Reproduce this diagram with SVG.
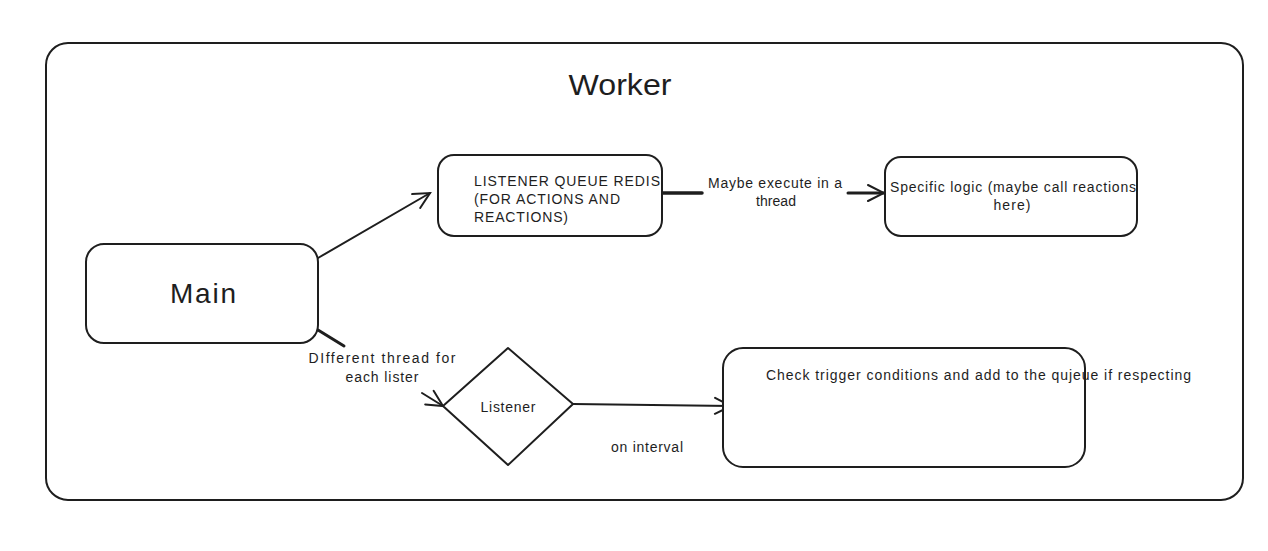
<svg xmlns="http://www.w3.org/2000/svg" width="1268" height="551" viewBox="0 0 1268 551">
<style>
.box{fill:#fff;stroke:#1e1e1e;stroke-width:2}
.t{font-family:"Liberation Sans",Arial,sans-serif;fill:#1e1e1e;font-size:14px}
.c{text-anchor:middle}
.ln{stroke:#1e1e1e;stroke-width:2;fill:none;stroke-linecap:round}
</style>
<defs>
<marker id="ah" markerWidth="20" markerHeight="20" refX="18" refY="10" orient="auto" markerUnits="userSpaceOnUse">
<path d="M2,2 L18,10 L2,18" fill="none" stroke="#1e1e1e" stroke-width="2" stroke-linecap="round"/>
</marker>
</defs>
<rect width="1268" height="551" fill="#fff"/>
<g id="worker">
<rect class="box" x="46" y="43" width="1197" height="457" rx="22"/>
<text class="t c" x="620" y="95" style="font-size:30px" textLength="103" lengthAdjust="spacingAndGlyphs">Worker</text>
</g>
<g id="connectors">
<path class="ln" d="M318,258 L430,193" marker-end="url(#ah)"/>
<path class="ln" d="M662,193 L702,193" style="stroke-width:3.5"/>
<path class="ln" d="M848,193 L884,193" style="stroke-width:3" marker-end="url(#ah)"/>
<text class="t c" x="775" y="188" textLength="134">Maybe execute in a</text>
<text class="t c" x="776" y="206" textLength="40">thread</text>
<path class="ln" d="M318,330 L344,346" style="stroke-width:3"/>
<path class="ln" d="M422,393 L443,406" marker-end="url(#ah)"/>
<text class="t c" x="382" y="363" textLength="147">DIfferent thread for</text>
<text class="t c" x="382" y="382" textLength="73">each lister</text>
<path class="ln" d="M573,404 L731,406" marker-end="url(#ah)"/>
<text class="t c" x="647" y="452" textLength="72">on interval</text>
</g>
<g id="main">
<rect class="box" x="86" y="244" width="232" height="99" rx="18"/>
<text class="t c" x="203" y="303" style="font-size:28px" textLength="66">Main</text>
</g>
<g id="queue">
<rect class="box" x="438" y="155" width="224" height="81" rx="16"/>
<text class="t" x="474" y="186" textLength="186">LISTENER QUEUE REDIS</text>
<text class="t" x="474" y="204" textLength="146">(FOR ACTIONS AND</text>
<text class="t" x="474" y="222" textLength="94">REACTIONS)</text>
</g>
<g id="specific">
<rect class="box" x="885" y="157" width="252" height="79" rx="16"/>
<text class="t c" x="1013" y="192" textLength="246">Specific logic (maybe call reactions</text>
<text class="t c" x="1012" y="210" textLength="37">here)</text>
</g>
<g id="listener">
<path class="box" d="M508,348 L573,404 L508,465 L443,406 Z" stroke-linejoin="round"/>
<text class="t c" x="508" y="412" textLength="55">Listener</text>
</g>
<g id="check">
<rect class="box" x="723" y="348" width="362" height="119" rx="20"/>
<text class="t" x="766" y="380" textLength="425">Check trigger conditions and add to the qujeue if respecting</text>
</g>
</svg>
